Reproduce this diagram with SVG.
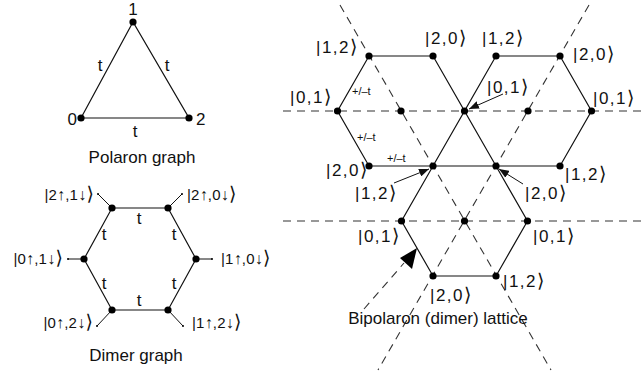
<svg xmlns="http://www.w3.org/2000/svg" width="643" height="374" viewBox="0 0 643 374">
  <defs>
    <style>
      .edge { stroke: #111; stroke-width: 1.2; fill: none; }
      .dash { stroke: #333; stroke-width: 1.1; fill: none; stroke-dasharray: 8 6; }
      .stub { stroke: #111; stroke-width: 1; fill: none; }
      .dot { fill: #000; }
      .pt { fill: #000; }
      .lbl { font-family: "Liberation Sans", "DejaVu Sans", sans-serif; font-size: 17px; fill: #111; }
      .ket { font-family: "Liberation Sans", "DejaVu Sans", sans-serif; font-size: 17px; fill: #111; letter-spacing: 1.5px; }
      .dket { font-family: "Liberation Sans", "DejaVu Sans", sans-serif; font-size: 15px; fill: #111; letter-spacing: 0.2px; }
      .arr { font-size: 16px; font-weight: bold; }
      .br { font-size: 19px; }
      .hop { font-family: "Liberation Sans", "DejaVu Sans", sans-serif; font-size: 11px; fill: #111; }
      .ptr { stroke: #111; stroke-width: 1; fill: none; marker-end: url(#head); }
    </style>
    <marker id="head" viewBox="0 0 10 8" refX="10" refY="4" markerWidth="10" markerHeight="8" markerUnits="userSpaceOnUse" orient="auto">
      <path d="M0,0 L10,4 L0,8 z" fill="#111"/>
    </marker>
  </defs>

  <!-- Polaron graph: three sites joined by hopping t -->
  <g id="polaron">
    <path class="edge" d="M81,118 L133,22 L189,118 Z"/>
    <circle class="dot" cx="133" cy="22" r="3.6"/>
    <circle class="dot" cx="81" cy="118" r="3.6"/>
    <circle class="dot" cx="189" cy="118" r="3.6"/>
    <text class="lbl" x="133" y="15" text-anchor="middle">1</text>
    <text class="lbl" x="77" y="125" text-anchor="end">0</text>
    <text class="lbl" x="196" y="125">2</text>
    <text class="lbl" x="100" y="71" text-anchor="middle">t</text>
    <text class="lbl" x="167" y="71" text-anchor="middle">t</text>
    <text class="lbl" x="135" y="137" text-anchor="middle">t</text>
    <text class="lbl" x="142" y="163" text-anchor="middle">Polaron graph</text>
  </g>

  <!-- Dimer graph: six two-particle states on a ring -->
  <g id="dimer">
    <path class="edge" d="M112,208 L168,208 L196,259 L168,310 L112,310 L84,259 Z"/>
    <line class="stub" x1="112" y1="208" x2="98" y2="194"/>
    <line class="stub" x1="168" y1="208" x2="182" y2="194"/>
    <line class="stub" x1="84" y1="259" x2="68" y2="259"/>
    <line class="stub" x1="196" y1="259" x2="212" y2="259"/>
    <line class="stub" x1="112" y1="310" x2="97" y2="326"/>
    <line class="stub" x1="168" y1="310" x2="183" y2="326"/>
    <circle class="pt" cx="98" cy="194" r="1"/>
    <circle class="pt" cx="182" cy="194" r="1"/>
    <circle class="pt" cx="68" cy="259" r="1"/>
    <circle class="pt" cx="212" cy="259" r="1"/>
    <circle class="pt" cx="97" cy="326" r="1"/>
    <circle class="pt" cx="183" cy="326" r="1"/>
    <circle class="dot" cx="112" cy="208" r="3.6"/>
    <circle class="dot" cx="168" cy="208" r="3.6"/>
    <circle class="dot" cx="84" cy="259" r="3.6"/>
    <circle class="dot" cx="196" cy="259" r="3.6"/>
    <circle class="dot" cx="112" cy="310" r="3.6"/>
    <circle class="dot" cx="168" cy="310" r="3.6"/>
    <text class="lbl" x="139" y="224" text-anchor="middle">t</text>
    <text class="lbl" x="104" y="240" text-anchor="middle">t</text>
    <text class="lbl" x="174" y="240" text-anchor="middle">t</text>
    <text class="lbl" x="104" y="289" text-anchor="middle">t</text>
    <text class="lbl" x="174" y="289" text-anchor="middle">t</text>
    <text class="lbl" x="139" y="306" text-anchor="middle">t</text>
    <text class="dket" x="94" y="200" text-anchor="end">|2<tspan class="arr">↑</tspan>,1<tspan class="arr">↓</tspan><tspan class="br">⟩</tspan></text>
    <text class="dket" x="187" y="200">|2<tspan class="arr">↑</tspan>,0<tspan class="arr">↓</tspan><tspan class="br">⟩</tspan></text>
    <text class="dket" x="63" y="264" text-anchor="end">|0<tspan class="arr">↑</tspan>,1<tspan class="arr">↓</tspan><tspan class="br">⟩</tspan></text>
    <text class="dket" x="221" y="264">|1<tspan class="arr">↑</tspan>,0<tspan class="arr">↓</tspan><tspan class="br">⟩</tspan></text>
    <text class="dket" x="93" y="328" text-anchor="end">|0<tspan class="arr">↑</tspan>,2<tspan class="arr">↓</tspan><tspan class="br">⟩</tspan></text>
    <text class="dket" x="192" y="328">|1<tspan class="arr">↑</tspan>,2<tspan class="arr">↓</tspan><tspan class="br">⟩</tspan></text>
    <text class="lbl" x="136" y="361" text-anchor="middle">Dimer graph</text>
  </g>

  <!-- Bipolaron lattice: guide lines -->
  <g id="guides">
    <line class="dash" x1="283" y1="111" x2="643" y2="111"/>
    <line class="dash" x1="283" y1="221" x2="643" y2="221"/>
    <line class="dash" x1="340" y1="5" x2="551" y2="370"/>
    <line class="dash" x1="589" y1="5" x2="378" y2="370"/>
    <line class="dash" x1="364" y1="309" x2="404" y2="263"/>
    <path d="M417,248 L400,258 L412,269 Z" fill="#000"/>
  </g>

  <!-- Bipolaron lattice: bonds -->
  <g id="bonds">
    <path class="edge" d="M369,56 L433,56 L464.5,111 L433,166 L369,166 L337.5,111 Z"/>
    <path class="edge" d="M496,56 L560,56 L591.5,111 L560,166 L496,166 L464.5,111 Z"/>
    <path class="edge" d="M433,166 L496,166 L527.5,221 L496,276 L433,276 L401.5,221 Z"/>
  </g>

  <!-- Bipolaron lattice: sites -->
  <g id="sites">
    <circle class="dot" cx="369" cy="56" r="3.6"/>
    <circle class="dot" cx="433" cy="56" r="3.6"/>
    <circle class="dot" cx="496" cy="56" r="3.6"/>
    <circle class="dot" cx="560" cy="56" r="3.6"/>
    <circle class="dot" cx="337.5" cy="111" r="3.6"/>
    <circle class="dot" cx="401" cy="111" r="3.6"/>
    <circle class="dot" cx="464.5" cy="111" r="3.6"/>
    <circle class="dot" cx="528" cy="111" r="3.6"/>
    <circle class="dot" cx="591.5" cy="111" r="3.6"/>
    <circle class="dot" cx="369" cy="166" r="3.6"/>
    <circle class="dot" cx="433" cy="166" r="3.6"/>
    <circle class="dot" cx="496" cy="166" r="3.6"/>
    <circle class="dot" cx="560" cy="166" r="3.6"/>
    <circle class="dot" cx="401.5" cy="221" r="3.6"/>
    <circle class="dot" cx="464.5" cy="221" r="3.6"/>
    <circle class="dot" cx="527.5" cy="221" r="3.6"/>
    <circle class="dot" cx="433" cy="276" r="3.6"/>
    <circle class="dot" cx="496" cy="276" r="3.6"/>
  </g>

  <!-- Bipolaron lattice: state labels and pointers -->
  <g id="labels">
    <line class="ptr" x1="503" y1="94" x2="469" y2="109"/>
    <line class="ptr" x1="394" y1="183" x2="429" y2="169"/>
    <line class="ptr" x1="523" y1="184" x2="499" y2="169"/>
    <text class="ket" x="316" y="53">|1,2<tspan class="br">⟩</tspan></text>
    <text class="ket" x="425" y="44">|2,0<tspan class="br">⟩</tspan></text>
    <text class="ket" x="482" y="44">|1,2<tspan class="br">⟩</tspan></text>
    <text class="ket" x="573" y="60">|2,0<tspan class="br">⟩</tspan></text>
    <text class="ket" x="290" y="103">|0,1<tspan class="br">⟩</tspan></text>
    <text class="ket" x="487" y="93">|0,1<tspan class="br">⟩</tspan></text>
    <text class="ket" x="593" y="104">|0,1<tspan class="br">⟩</tspan></text>
    <text class="ket" x="326" y="176">|2,0<tspan class="br">⟩</tspan></text>
    <text class="ket" x="565" y="180">|1,2<tspan class="br">⟩</tspan></text>
    <text class="ket" x="355" y="199">|1,2<tspan class="br">⟩</tspan></text>
    <text class="ket" x="525" y="199">|2,0<tspan class="br">⟩</tspan></text>
    <text class="ket" x="358" y="242">|0,1<tspan class="br">⟩</tspan></text>
    <text class="ket" x="533" y="242">|0,1<tspan class="br">⟩</tspan></text>
    <text class="ket" x="430" y="301">|2,0<tspan class="br">⟩</tspan></text>
    <text class="ket" x="503" y="287">|1,2<tspan class="br">⟩</tspan></text>
    <text class="hop" x="352" y="95">+/–t</text>
    <text class="hop" x="357" y="141">+/–t</text>
    <text class="hop" x="387" y="162">+/–t</text>
    <text class="lbl" x="438" y="324" text-anchor="middle" font-size="18">Bipolaron (dimer) lattice</text>
  </g>
</svg>
